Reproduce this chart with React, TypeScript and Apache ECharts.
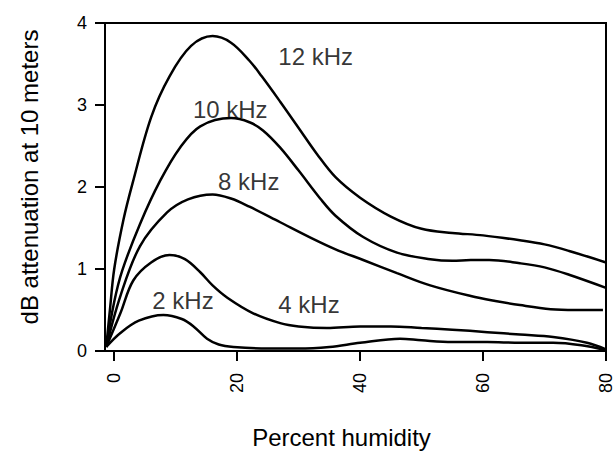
import React, { useEffect, useRef } from "react";
import * as echarts from "echarts";

// Percent humidity ticks
const xTicks = [0, 20, 40, 60, 80];

// Curves: [percent humidity, dB attenuation at 10 m]
const khz12: number[][] = [
  [-1.3, 0.05], [-0.7, 0.5], [0, 1.0], [1.5, 1.6], [3, 2.05], [6, 2.85], [9, 3.35], [12.5, 3.72],
  [16, 3.84], [19, 3.76], [22, 3.54], [24, 3.35], [27, 3.04], [30, 2.72], [33, 2.4], [36, 2.12],
  [40, 1.87], [45, 1.64], [50, 1.49], [55, 1.44], [60, 1.41], [66, 1.35], [70, 1.3], [74, 1.22], [80, 1.08],
];
const khz10: number[][] = [
  [-1.3, 0.05], [0, 0.6], [1.3, 0.98], [4.2, 1.55], [7.5, 2.08], [10.7, 2.48], [14, 2.74], [19, 2.84],
  [22, 2.79], [24.2, 2.69], [27, 2.48], [30, 2.2], [33.5, 1.86], [36, 1.65], [40.5, 1.39], [46, 1.2],
  [51.4, 1.12], [55, 1.1], [58, 1.11], [61, 1.11], [66, 1.07], [70, 1.02], [74, 0.93], [80, 0.77],
];
const khz8: number[][] = [
  [-1.3, 0.05], [1, 0.67], [4.2, 1.28], [8.6, 1.69], [12, 1.85], [16, 1.91], [19, 1.86], [22, 1.76],
  [27, 1.57], [32, 1.38], [36, 1.24], [40.5, 1.11], [46, 0.95], [51.4, 0.8], [58, 0.67], [62, 0.61],
  [66, 0.56], [71, 0.51], [75, 0.5], [79.5, 0.5],
];
const khz4: number[][] = [
  [-1.3, 0.05], [1, 0.46], [3.1, 0.86], [6, 1.08], [9, 1.17], [11.5, 1.12], [14, 0.96], [16, 0.8],
  [18.4, 0.65], [22.6, 0.46], [27, 0.34], [30, 0.3], [34.6, 0.28], [40, 0.3], [45, 0.3], [50, 0.28],
  [55, 0.26], [60.7, 0.23], [66, 0.2], [71.4, 0.17], [76.9, 0.1], [80, 0.02],
];
const khz2: number[][] = [
  [-1.3, 0.05], [1, 0.22], [4, 0.37], [8, 0.44], [11, 0.39], [12.9, 0.3], [15.1, 0.15], [17, 0.08],
  [19.4, 0.05], [25, 0.03], [30, 0.03], [35, 0.05], [40, 0.1], [46.5, 0.15], [50, 0.13], [55, 0.11],
  [60.7, 0.11], [66, 0.1], [71.4, 0.1], [76, 0.07], [80, 0.01],
];

const seriesNames = ["12 kHz", "10 kHz", "8 kHz", "4 kHz", "2 kHz"];
const seriesData = [khz12, khz10, khz8, khz4, khz2];

// Curve annotation anchors (left edge, vertical centre) in data units
const annotationX = [26.7, 12.8, 16.9, 26.7, 6.2];
const annotationY = [3.59, 2.95, 2.07, 0.57, 0.62];

const FONT = "'Liberation Sans', Arial, Helvetica, sans-serif";

export default function App() {
  const ref = useRef<HTMLDivElement>(null);
  useEffect(() => {
    if (!ref.current) return;
    const chart = echarts.init(ref.current, null, { renderer: "svg" });
    const lineSeries = seriesData.map((d, i) => ({
      type: "line",
      name: seriesNames[i],
      data: d,
      smooth: 0.35,
      symbol: "none",
      lineStyle: { color: "#000", width: 2.5 },
      z: 3,
    }));
    chart.setOption({
      animation: false,
      backgroundColor: "#fff",
      textStyle: { fontFamily: FONT },
      grid: {
        left: 105,
        right: 10,
        top: 23,
        bottom: 102,
        show: true,
        borderColor: "#000",
        borderWidth: 2,
        backgroundColor: "transparent",
      },
      xAxis: {
        type: "value",
        min: -1.5,
        max: 80,
        name: "Percent humidity",
        nameLocation: "middle",
        nameGap: 74,
        nameTextStyle: { fontSize: 24, color: "#000", fontFamily: FONT, padding: [0, 28, 0, 0] },
        axisLine: { show: true, onZero: true, lineStyle: { color: "#000", width: 2 } },
        axisTick: { show: true, customValues: xTicks, length: 10, lineStyle: { color: "#000", width: 2 } },
        axisLabel: {
          customValues: xTicks,
          rotate: 90,
          margin: 22,
          fontSize: 18,
          color: "#000",
          fontFamily: FONT,
        },
        splitLine: { show: false },
      },
      yAxis: {
        type: "value",
        min: 0,
        max: 4,
        interval: 1,
        name: "dB attenuation at 10 meters",
        nameLocation: "middle",
        nameGap: 64,
        nameTextStyle: { fontSize: 24, color: "#000", fontFamily: FONT, padding: [0, 0, 0, 20] },
        axisLine: { show: true, onZero: false, lineStyle: { color: "#000", width: 2 } },
        axisTick: { show: true, length: 10, lineStyle: { color: "#000", width: 2 } },
        axisLabel: { margin: 18, fontSize: 18, color: "#000", fontFamily: FONT },
        splitLine: { show: false },
      },
      series: [
        ...lineSeries,
        {
          type: "scatter",
          symbolSize: 0,
          silent: true,
          data: seriesNames.map((n, i) => ({ name: n, value: [annotationX[i], annotationY[i]] })),
          label: {
            show: true,
            position: "right",
            distance: 0,
            formatter: (p: any) => p.name,
            fontSize: 24,
            color: "#000",
            fontFamily: FONT,
          },
          z: 4,
        },
      ],
    });
    return () => chart.dispose();
  }, []);
  return (
    <div
      ref={ref}
      style={{ position: "fixed", left: 0, top: 0, width: 616, height: 454, background: "#fff" }}
    />
  );
}
